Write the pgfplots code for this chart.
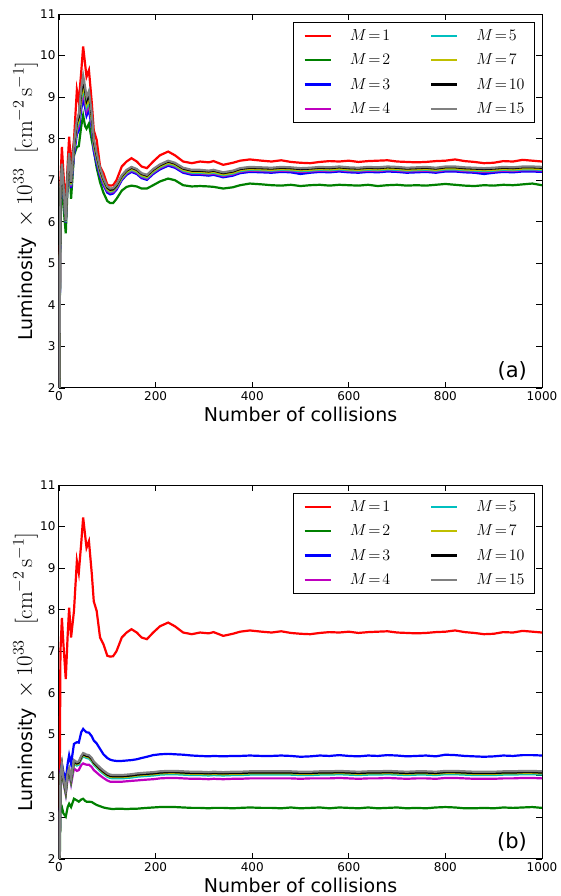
\RequirePackage{fix-cm}
\documentclass[border=0pt]{standalone}
\usepackage[no-math]{fontspec}
\setmainfont{DejaVu Sans}
\usepackage{pgfplots}
\usepackage{pgfplotstable}
\pgfplotsset{compat=1.18}
\definecolor{mplgreen}{rgb}{0,0.5,0}
\definecolor{mplmag}{rgb}{0.75,0,0.75}
\definecolor{mplcyan}{rgb}{0,0.75,0.75}
\definecolor{mplyel}{rgb}{0.75,0.75,0}
\definecolor{mplgray}{rgb}{0.5,0.5,0.5}

% columns: x, M=1, M=2, M=3, M=4, M=5, M=7, M=10, M=15
\pgfplotstableread{
x m1 m2 m3 m4 m5 m7 m10 m15
0 0.5 0.5 0.5 0.5 0.5 0.5 0.5 0.5
3 7.00 6.50 6.60 6.65 6.69 6.72 6.76 6.80
6 7.80 7.20 7.15 7.21 7.26 7.30 7.35 7.40
9 7.20 6.40 6.70 6.75 6.79 6.82 6.86 6.90
14 6.33 5.72 5.98 5.99 6.00 6.01 6.02 6.03
18 7.40 6.90 7.00 7.05 7.09 7.12 7.16 7.20
21 8.05 7.56 7.35 7.43 7.49 7.53 7.59 7.65
25 7.33 6.55 6.81 6.85 6.88 6.90 6.93 6.96
31 7.97 7.60 7.60 7.68 7.74 7.78 7.84 7.90
37 9.17 7.80 8.10 8.19 8.26 8.31 8.38 8.45
41 8.89 7.82 8.20 8.30 8.38 8.44 8.52 8.60
46 9.60 8.30 8.70 8.83 8.93 9.00 9.10 9.20
50 10.22 8.56 8.97 9.11 9.22 9.30 9.41 9.52
54 9.80 8.30 8.75 8.88 8.98 9.05 9.15 9.25
57 9.49 8.24 8.55 8.66 8.75 8.82 8.91 9.00
62 9.65 8.36 8.70 8.81 8.90 8.97 9.06 9.15
68 8.85 7.95 8.25 8.34 8.41 8.46 8.53 8.60
72 8.20 7.72 7.70 7.78 7.84 7.88 7.94 8.00
78 7.97 7.30 7.40 7.46 7.51 7.55 7.60 7.65
85 7.33 6.95 7.10 7.15 7.19 7.22 7.26 7.30
92 7.17 6.70 6.88 6.92 6.96 6.98 7.02 7.05
100 6.89 6.50 6.70 6.74 6.77 6.79 6.82 6.85
106 6.87 6.45 6.66 6.70 6.72 6.74 6.77 6.80
112 6.88 6.45 6.68 6.71 6.74 6.76 6.78 6.81
119 7.00 6.55 6.77 6.80 6.83 6.85 6.87 6.90
130 7.33 6.75 7.00 7.03 7.05 7.07 7.10 7.12
140 7.45 6.84 7.13 7.16 7.18 7.20 7.23 7.25
150 7.53 6.87 7.20 7.23 7.25 7.27 7.30 7.32
161 7.45 6.85 7.15 7.18 7.20 7.22 7.25 7.27
171 7.33 6.80 7.05 7.08 7.10 7.12 7.15 7.17
182 7.29 6.80 7.01 7.04 7.06 7.08 7.11 7.13
195 7.45 6.88 7.15 7.18 7.20 7.22 7.25 7.27
209 7.60 6.97 7.26 7.29 7.31 7.33 7.36 7.38
226 7.69 7.04 7.35 7.38 7.40 7.42 7.45 7.47
240 7.60 7.00 7.30 7.33 7.35 7.37 7.40 7.42
257 7.45 6.88 7.18 7.21 7.23 7.25 7.28 7.30
275 7.41 6.85 7.13 7.16 7.18 7.20 7.23 7.25
292 7.45 6.86 7.13 7.16 7.18 7.20 7.23 7.25
310 7.43 6.85 7.11 7.14 7.16 7.18 7.21 7.23
320 7.46 6.84 7.13 7.16 7.18 7.20 7.23 7.25
340 7.37 6.80 7.07 7.10 7.12 7.14 7.17 7.19
360 7.42 6.83 7.11 7.14 7.16 7.18 7.21 7.23
375 7.47 6.88 7.17 7.20 7.22 7.24 7.27 7.29
395 7.50 6.92 7.20 7.23 7.25 7.27 7.30 7.32
420 7.47 6.90 7.19 7.22 7.24 7.26 7.29 7.31
440 7.45 6.88 7.18 7.21 7.23 7.25 7.28 7.30
460 7.48 6.87 7.20 7.23 7.25 7.27 7.30 7.32
480 7.44 6.89 7.19 7.22 7.24 7.26 7.29 7.31
500 7.42 6.86 7.15 7.20 7.22 7.24 7.27 7.29
520 7.41 6.88 7.18 7.21 7.23 7.25 7.28 7.30
540 7.44 6.89 7.20 7.23 7.25 7.27 7.30 7.32
560 7.46 6.87 7.19 7.22 7.24 7.26 7.29 7.31
580 7.45 6.89 7.21 7.24 7.26 7.28 7.31 7.33
600 7.47 6.88 7.19 7.22 7.24 7.26 7.29 7.31
620 7.44 6.87 7.18 7.21 7.23 7.25 7.28 7.30
640 7.46 6.89 7.20 7.23 7.25 7.27 7.30 7.32
660 7.47 6.86 7.19 7.22 7.24 7.26 7.29 7.31
680 7.48 6.88 7.21 7.24 7.26 7.28 7.31 7.33
700 7.45 6.89 7.20 7.23 7.25 7.27 7.30 7.32
720 7.44 6.87 7.18 7.21 7.23 7.25 7.28 7.30
740 7.43 6.88 7.19 7.22 7.24 7.26 7.29 7.31
760 7.44 6.87 7.20 7.23 7.25 7.27 7.30 7.32
780 7.46 6.89 7.18 7.21 7.23 7.25 7.28 7.30
800 7.47 6.91 7.21 7.24 7.26 7.28 7.31 7.33
820 7.50 6.89 7.21 7.24 7.26 7.28 7.31 7.33
840 7.46 6.87 7.19 7.22 7.24 7.26 7.29 7.31
860 7.44 6.86 7.18 7.21 7.23 7.25 7.28 7.30
880 7.41 6.88 7.15 7.20 7.22 7.24 7.27 7.29
900 7.42 6.87 7.18 7.21 7.23 7.25 7.28 7.30
920 7.46 6.89 7.20 7.23 7.25 7.27 7.30 7.32
940 7.45 6.88 7.19 7.22 7.24 7.26 7.29 7.31
960 7.49 6.90 7.21 7.24 7.26 7.28 7.31 7.33
980 7.47 6.92 7.21 7.24 7.26 7.28 7.31 7.33
1000 7.45 6.88 7.20 7.23 7.25 7.27 7.30 7.32
}\tabA

\pgfplotstableread{
x m1 m2 m3 m4 m5 m7 m10 m15
0 0.5 0.5 0.5 0.5 0.5 0.5 0.5 0.5
3 7.00 3.20 4.10 3.95 3.97 3.99 4.00 4.02
6 7.80 3.25 4.30 4.18 4.21 4.23 4.25 4.28
9 7.20 3.10 4.10 3.85 3.88 3.90 3.92 3.95
14 6.33 3.02 3.90 3.55 3.58 3.60 3.62 3.65
18 7.40 3.25 4.30 3.95 4.00 4.03 4.05 4.08
21 8.05 3.33 4.50 4.05 4.10 4.13 4.15 4.18
25 7.33 3.25 4.29 3.80 3.85 3.88 3.90 3.93
31 7.97 3.45 4.77 4.18 4.30 4.33 4.35 4.38
37 9.17 3.41 4.81 4.12 4.25 4.28 4.30 4.33
41 8.89 3.38 4.80 4.14 4.27 4.30 4.32 4.35
46 9.60 3.43 5.05 4.26 4.40 4.43 4.45 4.48
50 10.22 3.45 5.13 4.30 4.47 4.50 4.52 4.55
54 9.80 3.40 5.08 4.28 4.45 4.48 4.50 4.53
57 9.49 3.38 5.05 4.27 4.43 4.46 4.48 4.51
62 9.65 3.38 5.04 4.27 4.42 4.45 4.47 4.50
68 8.85 3.37 4.95 4.21 4.35 4.38 4.40 4.43
72 8.20 3.34 4.85 4.14 4.27 4.30 4.32 4.35
78 7.97 3.30 4.78 4.08 4.20 4.23 4.25 4.28
85 7.33 3.27 4.65 4.01 4.12 4.15 4.17 4.20
92 7.17 3.24 4.52 3.95 4.05 4.08 4.10 4.13
100 6.89 3.22 4.43 3.89 3.98 4.01 4.03 4.06
106 6.87 3.21 4.39 3.86 3.95 3.98 4.00 4.03
112 6.88 3.20 4.37 3.86 3.94 3.97 3.99 4.02
119 7.00 3.21 4.36 3.86 3.94 3.97 3.99 4.02
130 7.33 3.21 4.36 3.86 3.94 3.97 3.99 4.02
140 7.45 3.20 4.37 3.87 3.95 3.98 4.00 4.03
150 7.53 3.21 4.38 3.88 3.96 3.99 4.01 4.04
161 7.45 3.21 4.40 3.89 3.98 4.01 4.03 4.06
171 7.33 3.22 4.43 3.90 3.99 4.02 4.04 4.07
182 7.29 3.23 4.46 3.91 4.00 4.03 4.05 4.08
195 7.45 3.24 4.50 3.92 4.01 4.04 4.06 4.09
209 7.60 3.25 4.52 3.94 4.03 4.06 4.08 4.11
226 7.69 3.25 4.53 3.95 4.04 4.07 4.09 4.12
240 7.60 3.25 4.52 3.95 4.04 4.07 4.09 4.12
257 7.45 3.24 4.51 3.94 4.03 4.06 4.08 4.11
275 7.41 3.23 4.49 3.93 4.02 4.05 4.07 4.10
292 7.45 3.23 4.48 3.93 4.02 4.05 4.07 4.10
310 7.43 3.22 4.47 3.92 4.01 4.04 4.06 4.09
320 7.46 3.23 4.48 3.93 4.02 4.05 4.07 4.10
340 7.37 3.23 4.47 3.92 4.01 4.04 4.06 4.09
360 7.42 3.22 4.48 3.93 4.02 4.05 4.07 4.10
375 7.47 3.23 4.48 3.93 4.02 4.05 4.07 4.10
395 7.50 3.24 4.49 3.94 4.03 4.06 4.08 4.11
420 7.47 3.23 4.48 3.94 4.03 4.06 4.08 4.11
440 7.45 3.23 4.48 3.94 4.03 4.06 4.08 4.11
460 7.48 3.22 4.49 3.94 4.03 4.06 4.08 4.11
480 7.44 3.24 4.48 3.94 4.03 4.06 4.08 4.11
500 7.42 3.22 4.46 3.93 4.02 4.05 4.07 4.10
520 7.41 3.23 4.47 3.94 4.02 4.05 4.07 4.10
540 7.44 3.24 4.49 3.94 4.03 4.06 4.08 4.11
560 7.46 3.22 4.48 3.94 4.03 4.06 4.08 4.11
580 7.45 3.24 4.50 3.95 4.04 4.07 4.09 4.12
600 7.47 3.23 4.48 3.94 4.03 4.06 4.08 4.11
620 7.44 3.22 4.47 3.93 4.02 4.05 4.07 4.10
640 7.46 3.24 4.49 3.94 4.03 4.06 4.08 4.11
660 7.47 3.22 4.48 3.94 4.03 4.06 4.08 4.11
680 7.48 3.23 4.50 3.95 4.04 4.07 4.09 4.12
700 7.45 3.24 4.49 3.94 4.03 4.06 4.08 4.11
720 7.44 3.22 4.47 3.93 4.02 4.05 4.07 4.10
740 7.43 3.23 4.48 3.94 4.03 4.06 4.08 4.11
760 7.44 3.22 4.49 3.94 4.03 4.06 4.08 4.11
780 7.46 3.24 4.47 3.93 4.02 4.05 4.07 4.10
800 7.47 3.25 4.51 3.95 4.04 4.07 4.09 4.12
820 7.50 3.24 4.50 3.95 4.04 4.07 4.09 4.12
840 7.46 3.22 4.48 3.94 4.03 4.06 4.08 4.11
860 7.44 3.22 4.47 3.93 4.02 4.05 4.07 4.10
880 7.41 3.23 4.46 3.93 4.02 4.05 4.07 4.10
900 7.42 3.22 4.47 3.93 4.02 4.05 4.07 4.10
920 7.46 3.24 4.49 3.94 4.03 4.06 4.08 4.11
940 7.45 3.23 4.48 3.94 4.03 4.06 4.08 4.11
960 7.49 3.24 4.50 3.95 4.04 4.07 4.09 4.12
980 7.47 3.25 4.50 3.95 4.04 4.07 4.09 4.12
1000 7.45 3.23 4.49 3.94 4.03 4.06 4.08 4.11
}\tabB

\pgfplotsset{lumax/.style={
  scale only axis, width=483pt, height=374pt,
  xmin=0, xmax=1000, ymin=2, ymax=11,
  xtick={0,200,...,1000}, ytick={2,3,...,11},
  minor tick num=0, tick align=inside, major tick length=6pt,
  axis line style={line width=1pt},
  every tick/.style={black, line width=0.8pt},
  tick label style={font=\fontsize{12}{14}\selectfont},
  /pgf/number format/assume math mode=true,
  /pgf/number format/1000 sep={},
  xlabel={Number of collisions},
  ylabel={Luminosity \,{\fontsize{23}{26}\selectfont$\times\,10^{33}$ \ $[\mathrm{cm}^{-2}\,\mathrm{s}^{-1}]$}},
  label style={font=\fontsize{19}{22}\selectfont},
  xlabel style={at={(axis description cs:0.5,-0.0508)}, anchor=north, inner sep=0pt},
  ylabel style={at={(axis description cs:-0.0559,0.5)}, anchor=base, inner sep=0pt},
  legend columns=2,
  legend cell align=left,
  legend style={at={(axis description cs:0.9855,0.9786)}, anchor=north east,
    font=\fontsize{16}{19}\selectfont, draw=black, line width=0.8pt,
    inner xsep=10pt, inner ysep=7pt,
    nodes={inner sep=0pt},
    row sep=12pt,
    /tikz/every odd column/.append style={column sep=18pt},
    /tikz/every even column/.append style={column sep=40pt}},
  legend image code/.code={\draw[#1, line width=2.2pt] (0pt,0pt) -- (26pt,0pt);},
  every axis plot/.append style={line width=2.2pt, mark=none},
}}

\begin{document}
\begin{tikzpicture}
\begin{axis}[lumax, at={(59pt,508pt)}, anchor=south west]
\addplot[red, forget plot] table[x=x,y=m1]{\tabA};
\addplot[mplgreen, forget plot] table[x=x,y=m2]{\tabA};
\addplot[blue, forget plot] table[x=x,y=m3]{\tabA};
\addplot[mplmag, forget plot] table[x=x,y=m4]{\tabA};
\addplot[mplcyan, forget plot] table[x=x,y=m5]{\tabA};
\addplot[mplyel, forget plot] table[x=x,y=m7]{\tabA};
\addplot[black, forget plot] table[x=x,y=m10]{\tabA};
\addplot[mplgray, forget plot] table[x=x,y=m15]{\tabA};
\addlegendimage{red}\addlegendentry{$M\!=\!1$}
\addlegendimage{mplcyan}\addlegendentry{$M\!=\!5$}
\addlegendimage{mplgreen}\addlegendentry{$M\!=\!2$}
\addlegendimage{mplyel}\addlegendentry{$M\!=\!7$}
\addlegendimage{blue}\addlegendentry{$M\!=\!3$}
\addlegendimage{black}\addlegendentry{$M\!=\!10$}
\addlegendimage{mplmag}\addlegendentry{$M\!=\!4$}
\addlegendimage{mplgray}\addlegendentry{$M\!=\!15$}
\node[anchor=south east, font=\fontsize{21}{24}\selectfont, inner sep=0pt] at (rel axis cs:0.969,0.021) {(a)};
\end{axis}
\begin{axis}[lumax, at={(59pt,37pt)}, anchor=south west]
\addplot[red, forget plot] table[x=x,y=m1]{\tabB};
\addplot[mplgreen, forget plot] table[x=x,y=m2]{\tabB};
\addplot[blue, forget plot] table[x=x,y=m3]{\tabB};
\addplot[mplmag, forget plot] table[x=x,y=m4]{\tabB};
\addplot[mplcyan, forget plot] table[x=x,y=m5]{\tabB};
\addplot[mplyel, forget plot] table[x=x,y=m7]{\tabB};
\addplot[black, forget plot] table[x=x,y=m10]{\tabB};
\addplot[mplgray, forget plot] table[x=x,y=m15]{\tabB};
\addlegendimage{red}\addlegendentry{$M\!=\!1$}
\addlegendimage{mplcyan}\addlegendentry{$M\!=\!5$}
\addlegendimage{mplgreen}\addlegendentry{$M\!=\!2$}
\addlegendimage{mplyel}\addlegendentry{$M\!=\!7$}
\addlegendimage{blue}\addlegendentry{$M\!=\!3$}
\addlegendimage{black}\addlegendentry{$M\!=\!10$}
\addlegendimage{mplmag}\addlegendentry{$M\!=\!4$}
\addlegendimage{mplgray}\addlegendentry{$M\!=\!15$}
\node[anchor=south east, font=\fontsize{21}{24}\selectfont, inner sep=0pt] at (rel axis cs:0.969,0.021) {(b)};
\end{axis}
\pgfresetboundingbox
\path[use as bounding box] (0pt,0pt) rectangle (560pt,896pt);
\end{tikzpicture}
\end{document}
